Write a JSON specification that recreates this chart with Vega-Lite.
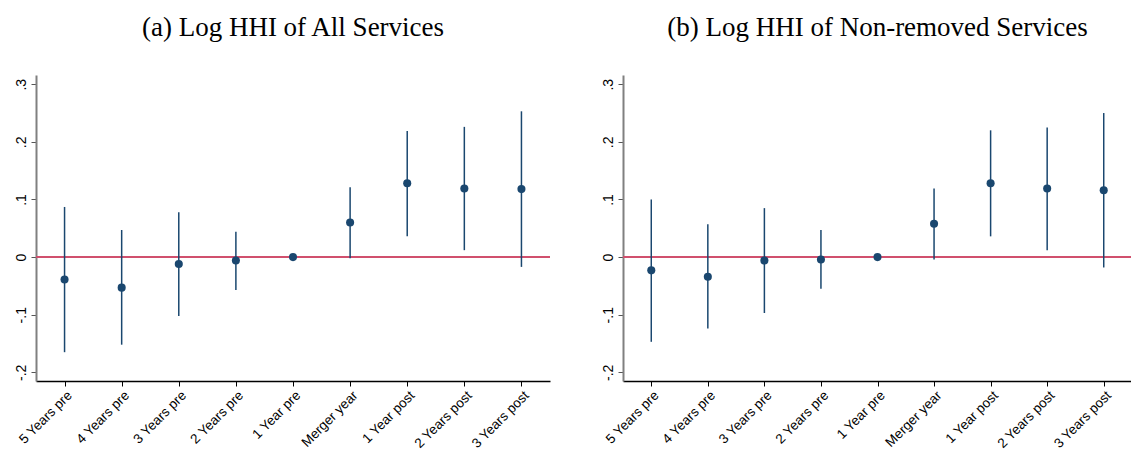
{
  "$schema": "https://vega.github.io/schema/vega-lite/v6.json",
  "autosize": {"type": "pad"},
  "padding": {"left": 13, "top": 14, "right": 0, "bottom": 0},
  "background": "white",
  "bounds": "flush",
  "spacing": 73,
  "config": {
    "view": {"stroke": null},
    "font": "Liberation Sans",
    "title": {"font": "Liberation Serif", "fontSize": 27, "fontWeight": "normal", "color": "#000000", "anchor": "middle", "offset": 33, "baseline": "alphabetic"},
    "axis": {"grid": false, "title": null, "labelFont": "Liberation Sans", "labelColor": "#000000", "tickSize": 5}
  },
  "datasets": {
    "a": [
      {"period": "5 Years pre", "est": -0.039, "lo": -0.165, "hi": 0.087},
      {"period": "4 Years pre", "est": -0.053, "lo": -0.152, "hi": 0.047},
      {"period": "3 Years pre", "est": -0.012, "lo": -0.102, "hi": 0.078},
      {"period": "2 Years pre", "est": -0.006, "lo": -0.057, "hi": 0.044},
      {"period": "1 Year pre", "est": 0, "lo": 0, "hi": 0},
      {"period": "Merger year", "est": 0.06, "lo": -0.002, "hi": 0.121},
      {"period": "1 Year post", "est": 0.128, "lo": 0.036, "hi": 0.219},
      {"period": "2 Years post", "est": 0.119, "lo": 0.012, "hi": 0.226},
      {"period": "3 Years post", "est": 0.118, "lo": -0.017, "hi": 0.253}
    ],
    "b": [
      {"period": "5 Years pre", "est": -0.023, "lo": -0.147, "hi": 0.1},
      {"period": "4 Years pre", "est": -0.034, "lo": -0.124, "hi": 0.057},
      {"period": "3 Years pre", "est": -0.006, "lo": -0.097, "hi": 0.085},
      {"period": "2 Years pre", "est": -0.004, "lo": -0.055, "hi": 0.047},
      {"period": "1 Year pre", "est": 0, "lo": 0, "hi": 0},
      {"period": "Merger year", "est": 0.058, "lo": -0.004, "hi": 0.119},
      {"period": "1 Year post", "est": 0.128, "lo": 0.036, "hi": 0.22},
      {"period": "2 Years post", "est": 0.119, "lo": 0.012, "hi": 0.225},
      {"period": "3 Years post", "est": 0.116, "lo": -0.018, "hi": 0.25}
    ]
  },
  "hconcat": [
    {
      "width": 514,
      "height": 306,
      "title": {"text": "(a) Log HHI of All Services"},
      "data": {"name": "a"},
      "encoding": {
        "x": {"field": "period", "type": "ordinal", "sort": null, "scale": {"type": "point", "padding": 0.5},
          "axis": {"labelAngle": -45, "labelFontSize": 13.5, "domainColor": "#000000", "domainWidth": 1.3, "tickColor": "#000000", "labelPadding": 2}}
      },
      "layer": [
        {"mark": {"type": "rule", "color": "#d0506e", "strokeWidth": 1.8}, "encoding": {"x": null, "y": {"datum": 0, "type": "quantitative"}}},
        {"mark": {"type": "rule", "color": "#1a476f", "strokeWidth": 1.5},
          "encoding": {
            "y": {"field": "lo", "type": "quantitative", "scale": {"domain": [-0.215, 0.316], "nice": false, "zero": false},
              "axis": {"values": [-0.2, -0.1, 0, 0.1, 0.2, 0.3], "labelAngle": -90, "labelAlign": "center", "labelBaseline": "bottom", "labelFontSize": 14, "labelPadding": 3, "domainColor": "#808080", "domainWidth": 2, "tickColor": "#555555",
                "labelExpr": "datum.value == 0 ? '0' : (datum.value < 0 ? '-' : '') + substring(format(abs(datum.value), '.1f'), 1)"}},
            "y2": {"field": "hi"}
          }},
        {"mark": {"type": "point", "filled": true, "size": 65, "color": "#1a476f", "opacity": 1},
          "encoding": {"y": {"field": "est", "type": "quantitative"}}}
      ]
    },
    {
      "width": 509,
      "height": 306,
      "title": {"text": "(b) Log HHI of Non-removed Services"},
      "data": {"name": "b"},
      "encoding": {
        "x": {"field": "period", "type": "ordinal", "sort": null, "scale": {"type": "point", "padding": 0.5},
          "axis": {"labelAngle": -45, "labelFontSize": 13.5, "domainColor": "#000000", "domainWidth": 1.3, "tickColor": "#000000", "labelPadding": 2}}
      },
      "layer": [
        {"mark": {"type": "rule", "color": "#d0506e", "strokeWidth": 1.8}, "encoding": {"x": null, "y": {"datum": 0, "type": "quantitative"}}},
        {"mark": {"type": "rule", "color": "#1a476f", "strokeWidth": 1.5},
          "encoding": {
            "y": {"field": "lo", "type": "quantitative", "scale": {"domain": [-0.215, 0.316], "nice": false, "zero": false},
              "axis": {"values": [-0.2, -0.1, 0, 0.1, 0.2, 0.3], "labelAngle": -90, "labelAlign": "center", "labelBaseline": "bottom", "labelFontSize": 14, "labelPadding": 3, "domainColor": "#808080", "domainWidth": 2, "tickColor": "#555555",
                "labelExpr": "datum.value == 0 ? '0' : (datum.value < 0 ? '-' : '') + substring(format(abs(datum.value), '.1f'), 1)"}},
            "y2": {"field": "hi"}
          }},
        {"mark": {"type": "point", "filled": true, "size": 65, "color": "#1a476f", "opacity": 1},
          "encoding": {"y": {"field": "est", "type": "quantitative"}}}
      ]
    }
  ]
}
